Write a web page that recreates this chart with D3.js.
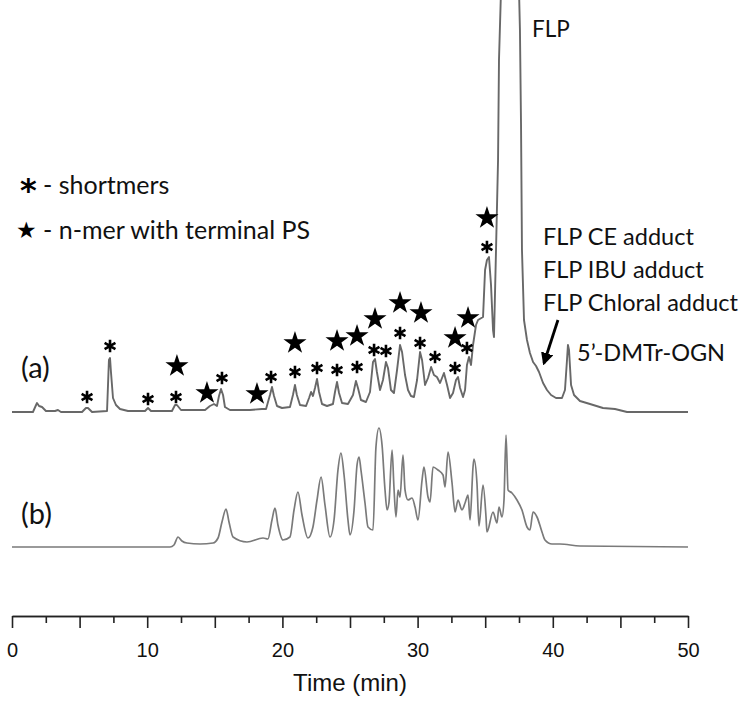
<!DOCTYPE html>
<html><head><meta charset="utf-8">
<script src="https://cdn.jsdelivr.net/npm/d3@7"></script>
<style>body{margin:0;background:#fff}svg{display:block}</style>
</head><body><svg id="chart" width="752" height="702"></svg>
<script>
// ---- data (time in min, signal in arbitrary absorbance units) ----
const traceA = [
 [0,0],[1.55,0],[1.78,7],[1.85,9],[2.0,6],[2.22,5],[2.51,1],[3.18,1],[3.40,2],[3.62,0],
 [5.18,0],[5.47,4],[5.62,4],[5.92,0],[7.03,1],[7.17,52],[7.25,54],[7.32,40],[7.47,14],[7.69,7],
 [7.99,3],[8.58,1],[9.84,1],[10.06,4],[10.28,1],[11.83,1],[12.06,7],[12.20,7],[12.50,2],[14.28,2],
 [14.64,6],[14.94,8],[15.16,6],[15.31,16],[15.46,23],[15.61,17],[15.75,5],[16.12,2],[17.60,2],[18.49,3],
 [18.79,3],[19.08,17],[19.23,25],[19.38,16],[19.60,6],[19.97,4],[20.56,5],[20.78,17],[20.93,27],[21.07,17],
 [21.30,7],[21.75,6],[21.97,14],[22.12,20],[22.26,16],[22.41,24],[22.56,33],[22.71,20],[22.93,8],[23.30,6],
 [23.74,8],[23.89,20],[24.04,30],[24.19,19],[24.41,9],[24.85,8],[25.22,17],[25.44,31],[25.59,24],[25.81,12],
 [26.18,10],[26.48,20],[26.70,50],[26.85,53],[26.99,40],[27.22,22],[27.44,32],[27.66,50],[27.81,44],[28.03,22],
 [28.25,19],[28.48,42],[28.70,67],[28.85,60],[29.07,37],[29.29,22],[29.51,16],[29.73,15],[29.96,32],[30.18,60],
 [30.33,52],[30.55,27],[30.77,34],[31.00,45],[31.21,37],[31.43,35],[31.66,29],[31.95,39],[32.18,27],[32.40,14],
 [32.62,19],[32.84,32],[32.99,35],[33.14,24],[33.36,15],[33.51,22],[33.65,47],[33.80,55],[33.95,47],[34.10,67],
 [34.32,87],[34.47,92],[34.84,95],[34.99,142],[35.13,152],[35.28,155],[35.43,127],[35.58,82],[35.65,75],[35.80,162],
 [35.95,252],[36.02,352],[36.17,422],[36.80,6000],[37.50,422],[37.57,382],[37.65,287],[37.72,162],[37.87,92],[38.09,72],
 [38.31,59],[38.54,50],[38.76,46],[38.98,40],[39.28,29],[39.57,22],[39.87,17],[40.24,14],[40.68,14],[40.90,22],
 [41.05,52],[41.12,67],[41.20,62],[41.35,27],[41.57,17],[42.01,11],[42.75,8],[43.71,4],[44.60,3],[45.49,0],[50,0]
];
const traceB = [
 [0,0],[11.69,0],[11.98,2],[12.28,10],[12.57,6],[12.94,4],[13.91,3],[14.87,4],[15.24,9],[15.53,25],
 [15.83,38],[16.05,25],[16.35,10],[17.38,5],[18.57,9],[18.93,8],[19.23,27],[19.45,39],[19.67,22],[20.04,7],
 [20.56,10],[20.86,37],[21.15,55],[21.45,32],[21.89,9],[22.26,20],[22.56,47],[22.86,70],[23.15,42],[23.52,10],
 [23.82,27],[24.11,77],[24.33,94],[24.56,72],[24.85,27],[25.00,12],[25.30,37],[25.52,82],[25.67,90],[25.81,77],
 [26.11,44],[26.33,20],[26.70,17],[26.92,100],[27.14,119],[27.37,102],[27.59,57],[27.74,37],[27.88,44],[28.11,97],
 [28.25,60],[28.40,30],[28.55,57],[28.70,50],[28.92,92],[29.07,57],[29.29,47],[29.59,49],[29.81,40],[30.03,27],
 [30.33,67],[30.47,80],[30.77,50],[30.92,45],[31.14,80],[31.51,77],[31.88,72],[32.03,60],[32.25,95],[32.54,65],
 [32.77,35],[32.99,47],[33.28,37],[33.51,44],[33.73,52],[33.88,27],[34.10,80],[34.17,88],[34.39,64],[34.54,21],
 [34.84,62],[35.06,30],[35.13,15],[35.58,35],[35.87,24],[36.02,40],[36.24,30],[36.39,47],[36.54,112],[36.69,57],
 [36.98,54],[37.35,47],[37.72,37],[38.09,20],[38.31,17],[38.54,35],[38.83,30],[39.20,15],[39.42,7],[39.94,3],
 [40.53,3],[42.01,1],[50,0]
];
// shortmer markers (*) : [time, signal level of marker]
const shortmers = [
 [5.55,15],[7.25,66],[10.06,13],[12.13,15],[15.53,34],[19.16,35],[20.93,40],[22.56,44],[24.04,42],
 [25.52,45],[26.78,62],[27.66,61],[28.70,79],[30.18,69],[31.29,55],[32.77,44],[33.65,64],[35.13,165]
];
// n-mer with terminal PS markers (★)
const psMers = [
 [12.20,47],[14.42,20],[18.12,19],[20.93,70],[24.04,72],[25.52,77],[26.85,94],[28.70,110],
 [30.25,100],[32.77,75],[33.73,95],[35.13,195]
];
const majorTicks = [0,5,10,15,20,25,30,35,40,45,50];
const minorTicks = [2.5,7.5,12.5,17.5,22.5,27.5,32.5,37.5,42.5,47.5];
const tickLabels = [0,10,20,30,40,50];
const adductLabels = ["FLP CE adduct","FLP IBU adduct","FLP Chloral adduct"];
const arrowPts = [[40.38,92],[39.35,49]];

// ---- drawing ----
const svg = d3.select("#chart");
svg.append("rect").attr("width",752).attr("height",702).attr("fill","#fff");
const x = d3.scaleLinear().domain([0,50]).range([12,688]);
const yA = d3.scaleLinear().domain([0,100]).range([412,312]);
const yB = d3.scaleLinear().domain([0,100]).range([547,447]);

const lineA = d3.line().x(d=>x(d[0])).y(d=>yA(d[1]));
const lineB = d3.line().x(d=>x(d[0])).y(d=>yB(d[1])).curve(d3.curveMonotoneX);

svg.append("path").datum(traceA).attr("d",lineA).attr("fill","none")
  .attr("stroke","#686868").attr("stroke-width",1.9).attr("stroke-linejoin","round");
svg.append("path").datum(traceB).attr("d",lineB).attr("fill","none")
  .attr("stroke","#7a7a7a").attr("stroke-width",1.7).attr("stroke-linejoin","round");

// markers
svg.selectAll("path.ast").data(shortmers).join("path").attr("class","ast")
  .attr("d", d3.symbol(d3.symbolAsterisk, 110)())
  .attr("transform", d=>`translate(${x(d[0])},${yA(d[1])})`)
  .attr("fill","none").attr("stroke","#000").attr("stroke-width",2.6);
svg.selectAll("path.star").data(psMers).join("path").attr("class","star")
  .attr("d", d3.symbol(d3.symbolStar, 165)())
  .attr("transform", d=>`translate(${x(d[0])},${yA(d[1])+1})`)
  .attr("fill","#000");

// axis
const axG = svg.append("g").attr("transform","translate(0,616)");
const axMajor = d3.axisBottom(x).tickValues(majorTicks).tickSize(12).tickSizeOuter(0).tickPadding(15)
  .tickFormat(d => tickLabels.includes(d) ? d3.format("d")(d) : "");
axG.call(axMajor);
const axMinor = d3.axisBottom(x).tickValues(minorTicks).tickSize(7).tickSizeOuter(0).tickFormat("");
svg.append("g").attr("transform","translate(0,616)").call(axMinor);
svg.selectAll(".domain").attr("stroke","#222").attr("stroke-width",1.6);
svg.selectAll(".tick line").attr("stroke","#222").attr("stroke-width",1.6);
axG.selectAll(".tick text").attr("font-family","Liberation Sans, Arial, sans-serif")
  .attr("font-size",20).attr("fill","#111");
svg.append("text").attr("x",350).attr("y",691).attr("text-anchor","middle")
  .attr("font-family","Liberation Sans, Arial, sans-serif").attr("font-size",24).attr("fill","#111")
  .text("Time (min)");

// text annotations
const F = "Lato, 'Open Sans', sans-serif";
function txt(xp, yp, s, size){
  return svg.append("text").attr("x",xp).attr("y",yp).attr("font-family",F)
    .attr("font-size",size).attr("fill","#111").text(s);
}
txt(21,378,"(a)",29);
txt(21,524,"(b)",29);
txt(532,37,"FLP",22.5);
adductLabels.forEach((s,i)=>txt(543,245+i*33,s,23.5));
txt(577,361,"5’-DMTr-OGN",23.5);

// legend
svg.append("text").attr("x",20).attr("y",201).attr("font-family","DejaVu Sans, sans-serif")
  .attr("font-size",32).attr("font-weight","bold").attr("fill","#000").text("*");
txt(43,194,"- shortmers",25);
svg.append("text").attr("x",16).attr("y",238).attr("font-family","DejaVu Sans, sans-serif")
  .attr("font-size",23).attr("fill","#000").text("★");
txt(43,239,"- n-mer with terminal PS",25);

// arrow
const defs = svg.append("defs");
defs.append("marker").attr("id","ah").attr("viewBox","0 0 10 10").attr("refX",8).attr("refY",5)
  .attr("markerWidth",4.5).attr("markerHeight",4.5).attr("orient","auto")
  .append("path").attr("d","M0,0L10,5L0,10z").attr("fill","#000");
svg.append("line").attr("x1",x(arrowPts[0][0])).attr("y1",yA(arrowPts[0][1]))
  .attr("x2",x(arrowPts[1][0])).attr("y2",yA(arrowPts[1][1]))
  .attr("stroke","#000").attr("stroke-width",2.8).attr("marker-end","url(#ah)");
</script></body></html>
